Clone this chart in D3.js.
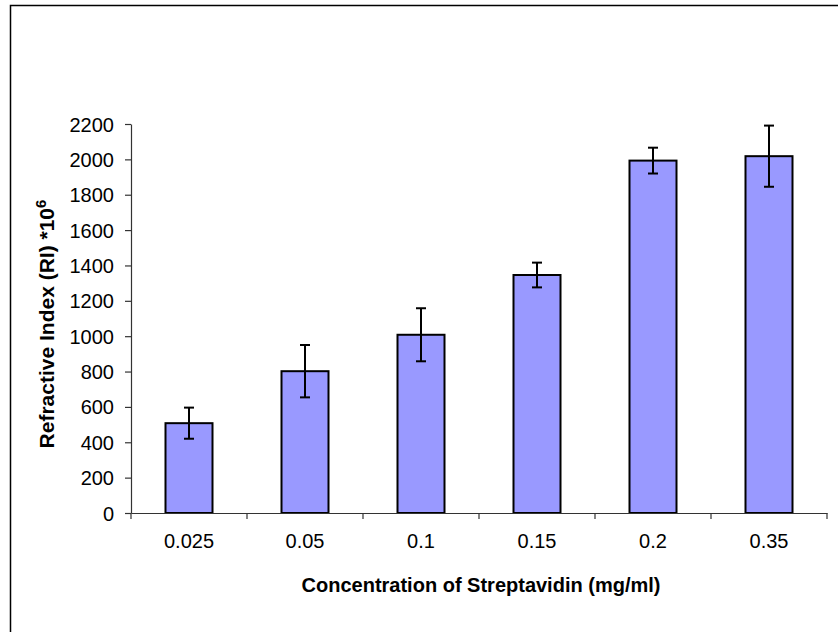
<!DOCTYPE html>
<html><head><meta charset="utf-8">
<script src="https://cdn.jsdelivr.net/npm/d3@7"></script>
<style>html,body{margin:0;padding:0;background:#fff;}svg{display:block;}</style>
</head><body>
<script>
const categories = ["0.025", "0.05", "0.1", "0.15", "0.2", "0.35"];
const values = [508, 802, 1008, 1346, 1993, 2018];
const errors = [88, 148, 150, 70, 73, 173];
const yTicks = [0, 200, 400, 600, 800, 1000, 1200, 1400, 1600, 1800, 2000, 2200];

const W = 838, H = 632;
const svg = d3.select("body").append("svg").attr("width", W).attr("height", H);

svg.append("rect").attr("x", 10.5).attr("y", 5.5).attr("width", 900).attr("height", 700)
  .attr("fill", "none").attr("stroke", "#000").attr("stroke-width", 1.5);

const pLeft = 131, pRight = 827, pTop = 124, pBottom = 513;
const x = d3.scaleBand().domain(categories).range([pLeft, pRight]).paddingInner(0).paddingOuter(0);
const y = d3.scaleLinear().domain([0, 2200]).range([pBottom, pTop]);

const font = "Liberation Sans, Arial, sans-serif";

// y axis
const yAxis = svg.append("g").attr("transform", `translate(${pLeft},0)`)
  .call(d3.axisLeft(y).tickValues(yTicks).tickSize(6).tickSizeOuter(0).tickFormat(d3.format("d")));
yAxis.select(".domain").attr("stroke", "#333").attr("stroke-width", 1.2);
yAxis.selectAll(".tick line").attr("stroke", "#333").attr("stroke-width", 1.2);
yAxis.selectAll(".tick text").attr("font-family", font).attr("font-size", 20).attr("fill", "#000")
  .attr("x", -17).attr("dy", "0.35em");

// bars
const bw = 47;
svg.append("g").selectAll("rect").data(categories).join("rect")
  .attr("x", d => x(d) + x.bandwidth() / 2 - bw / 2)
  .attr("y", (d, i) => y(values[i]))
  .attr("width", bw)
  .attr("height", (d, i) => y(0) - y(values[i]))
  .attr("fill", "#9999FF").attr("stroke", "#000").attr("stroke-width", 2);

// x axis
const xAxis = svg.append("g").attr("transform", `translate(0,${pBottom})`)
  .call(d3.axisBottom(x).tickSize(0).tickSizeOuter(0));
xAxis.select(".domain").attr("stroke", "#333").attr("stroke-width", 1.2);
xAxis.selectAll(".tick text").attr("font-family", font).attr("font-size", 20).attr("fill", "#000")
  .attr("y", 35).attr("dy", 0);
// boundary ticks
const bounds = categories.map(c => x(c)).concat([pRight]);
svg.append("g").selectAll("line").data(bounds).join("line")
  .attr("x1", d => d).attr("x2", d => d).attr("y1", pBottom).attr("y2", pBottom + 6)
  .attr("stroke", "#333").attr("stroke-width", 1.2);

// error bars
const eg = svg.append("g").attr("stroke", "#000").attr("stroke-width", 2);
categories.forEach((c, i) => {
  const cx = x(c) + x.bandwidth() / 2;
  const y1 = y(values[i] + errors[i]), y2 = y(values[i] - errors[i]);
  eg.append("line").attr("x1", cx).attr("x2", cx).attr("y1", y1).attr("y2", y2);
  eg.append("line").attr("x1", cx - 5).attr("x2", cx + 5).attr("y1", y1).attr("y2", y1);
  eg.append("line").attr("x1", cx - 5).attr("x2", cx + 5).attr("y1", y2).attr("y2", y2);
});

// axis titles
svg.append("text").attr("x", 481).attr("y", 592).attr("text-anchor", "middle")
  .attr("font-family", font).attr("font-size", 20).attr("font-weight", "bold")
  .text("Concentration of Streptavidin (mg/ml)");

const yt = svg.append("text").attr("transform", `translate(54,324) rotate(-90)`)
  .attr("text-anchor", "middle").attr("font-family", font).attr("font-size", 21).attr("font-weight", "bold");
yt.append("tspan").text("Refractive Index (RI) *10");
yt.append("tspan").attr("font-size", 15).attr("dy", "-0.55em").text("6");
</script>
</body></html>
